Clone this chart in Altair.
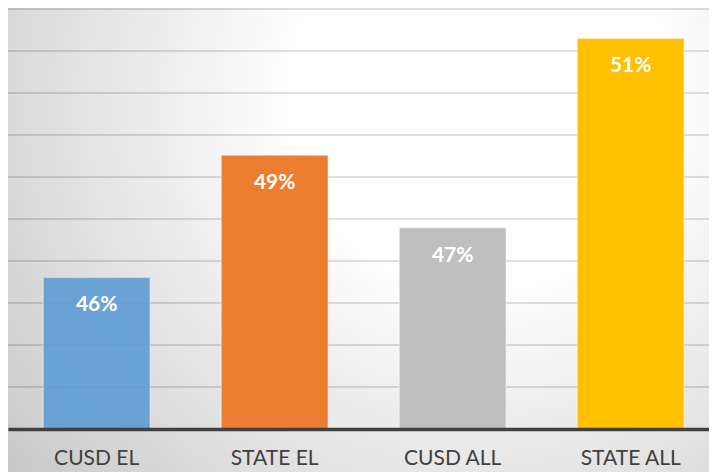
import altair as alt
import pandas as pd

categories = ["CUSD EL", "STATE EL", "CUSD ALL", "STATE ALL"]
values = [0.4561, 0.4852, 0.4679, 0.5130]
colors = ["#5B9BD5", "#ED7D31", "#BFBFBF", "#FFC000"]
grid_values = [0.42, 0.43, 0.44, 0.45, 0.46, 0.47, 0.48, 0.49, 0.50, 0.51, 0.52]

df = pd.DataFrame({"cat": categories, "value": values})
grid_df = pd.DataFrame({"g": grid_values})
bg_df = pd.DataFrame({"a": [0]})

yscale = alt.Scale(domain=[0.42, 0.52], zero=False, nice=False)
xscale = alt.Scale(paddingInner=0.4, paddingOuter=0.169, align=0.586)

bg_gradient = alt.RadialGradient(
    gradient="radial",
    stops=[
        alt.GradientStop(offset=0, color="#ffffff"),
        alt.GradientStop(offset=0.3, color="#ffffff"),
        alt.GradientStop(offset=1, color="#c6c6c6"),
    ],
    x1=0.66, y1=0.3, r1=0,
    x2=0.66, y2=0.3, r2=0.85,
)

background = alt.Chart(bg_df).mark_rect(fill=bg_gradient).encode(
    x=alt.value(-10), x2=alt.value(720), y=alt.value(-10), y2=alt.value(480)
)

grid = alt.Chart(grid_df).mark_rule(color="#000000", opacity=0.17, strokeWidth=1.5).encode(
    y=alt.Y("g:Q", scale=yscale, axis=None)
)

bars = alt.Chart(df).mark_bar(stroke="#ffffff", strokeOpacity=0.35, strokeWidth=1.5).encode(
    x=alt.X("cat:N", sort=categories, scale=xscale,
            axis=alt.Axis(title=None, labelAngle=0, ticks=False, domainColor="#404040",
                          domainWidth=3.5, labelFont="Lato", labelFontSize=21,
                          labelColor="#404040", labelPadding=18, zindex=1)),
    y=alt.Y("value:Q", scale=yscale, axis=None),
    y2=alt.datum(0.42),
    color=alt.Color("cat:N", scale=alt.Scale(domain=categories, range=colors), legend=None),
    opacity=alt.condition(alt.datum.cat == "CUSD EL", alt.value(0.88), alt.value(1.0)),
)

labels = alt.Chart(df).mark_text(
    font="Lato", fontSize=21, fontWeight="bold", color="#ffffff", baseline="middle", dy=28
).encode(
    x=alt.X("cat:N", sort=categories, scale=xscale),
    y=alt.Y("value:Q", scale=yscale),
    text=alt.Text("value:Q", format=".0%"),
)

chart = alt.layer(background, grid, bars, labels).properties(
    width=701, height=420,
    padding={"left": 0, "right": 0, "top": 1, "bottom": 43},
    autosize=alt.AutoSizeParams(type="none"),
).configure_view(stroke=None)

chart.save("out.html", embed_options={"renderer": "svg", "actions": False})
